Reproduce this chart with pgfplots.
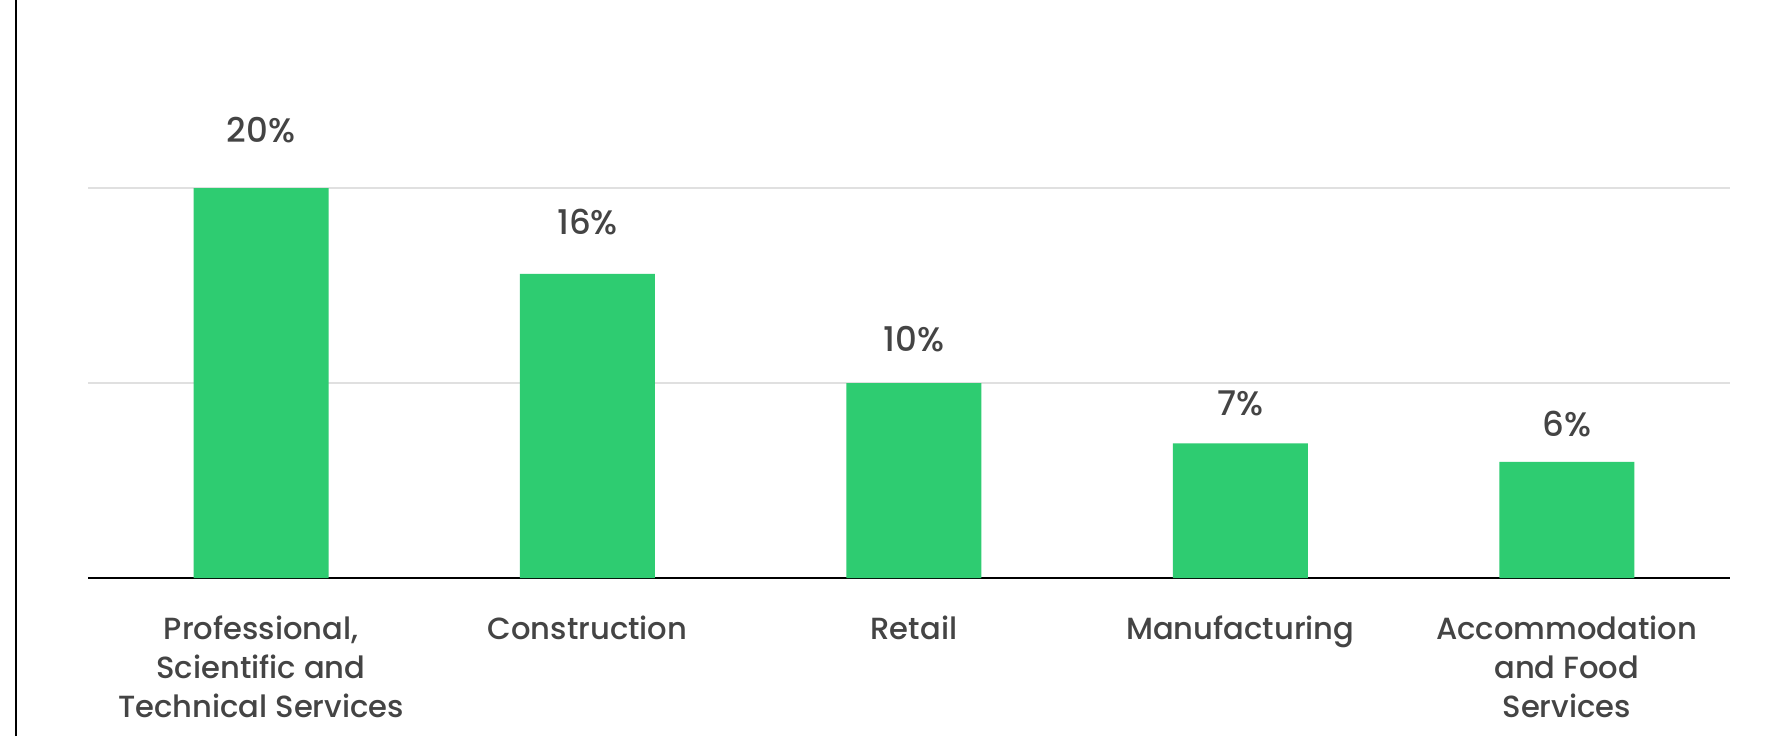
\documentclass[border=0pt]{standalone}
\usepackage{fontspec}
\setmainfont{Poppins Medium}
\usepackage{pgfplots}
\pgfplotsset{compat=1.18}
\definecolor{bargreen}{HTML}{2ECC71}
\definecolor{txt}{HTML}{444444}
\definecolor{gridc}{HTML}{E0E0E0}
\begin{document}
\begin{tikzpicture}
\useasboundingbox (0,0) rectangle (893.5pt,368pt);
\fill[white] (0,0) rectangle (893.5pt,368pt);
\draw[black, line width=1.2pt] (8pt,0) -- (8pt,368pt);
\begin{axis}[
  at={(44pt,79pt)}, anchor=south west,
  scale only axis, width=821pt, height=195pt,
  xmin=-0.53, xmax=4.5, ymin=0, ymax=20,
  axis x line=bottom, axis y line=left,
  x axis line style={-, black, line width=0.9pt},
  y axis line style={draw=none},
  ytick={10,20}, yticklabels={},
  ymajorgrids, major grid style={gridc, line width=0.6pt},
  tick style={draw=none}, major tick length=0pt,
  xtick=data,
  xticklabels={{Professional,\\Scientific and\\Technical Services},Construction,Retail,Manufacturing,{Accommodation\\and Food\\Services}},
  xticklabel style={align=center, font=\fontsize{15.3}{19.5}\selectfont, text=txt, anchor=north, yshift=-15.5pt},
  clip=false,
  point meta=y, point meta min=0, point meta max=20,
  nodes near coords={\pgfmathprintnumber[fixed,precision=0,assume math mode=true]{\pgfplotspointmeta}\%},
  every node near coord/.append style={anchor=center, text=txt, font=\fontsize{17}{20}\selectfont, yshift={15pt+0.014pt*\pgfplotspointmetatransformed}},
]
\addplot[ybar, bar width=67.5pt, fill=bargreen, draw=none] coordinates {(0,20) (1,15.6) (2,10) (3,6.9) (4,5.95)};
\end{axis}
\end{tikzpicture}
\end{document}
